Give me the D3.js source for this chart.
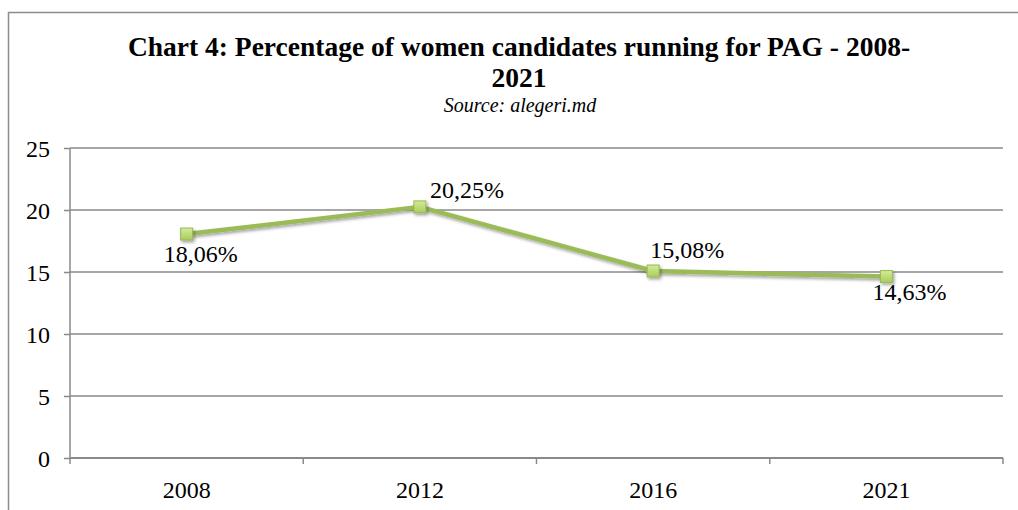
<!DOCTYPE html>
<html>
<head>
<meta charset="utf-8">
<script src="https://cdn.jsdelivr.net/npm/d3@7"></script>
<style>
  body { margin: 0; background: #fff; }
  svg { display: block; }
  svg text { font-family: "Liberation Serif", "Times New Roman", serif; }
</style>
</head>
<body>
<div id="chart"></div>
<script>
// Data
const years = ["2008", "2012", "2016", "2021"];
const shares = [18.06, 20.25, 15.08, 14.63];
const shareLabels = ["18,06%", "20,25%", "15,08%", "14,63%"];
const yTicks = [0, 5, 10, 15, 20, 25];

// label placement relative to the point (dx, dy of baseline)
const labelOffsets = [[14, 28], [47, -9], [34, -13], [23, 23]];

const W = 1018, H = 510;
const margin = {top: 148, right: 15, bottom: 52, left: 70};
const width = W - margin.left - margin.right;
const height = H - margin.top - margin.bottom;
const serif = '"Liberation Serif", "Times New Roman", serif';

const svg = d3.select("#chart").append("svg")
  .attr("width", W)
  .attr("height", H);

// outer frame (runs off the right and bottom edges)
svg.append("rect")
  .attr("x", 8.5).attr("y", 12.5)
  .attr("width", W + 10).attr("height", H + 10)
  .attr("fill", "none")
  .attr("stroke", "#8c8c8c")
  .attr("stroke-width", 1.5);

// Titles
const title = svg.append("text")
  .attr("text-anchor", "middle")
  .style("font-family", serif)
  .style("font-weight", "bold")
  .style("font-size", "27.5px")
  .attr("fill", "#000");
title.append("tspan").attr("x", 519).attr("y", 56)
  .text("Chart 4: Percentage of women candidates running for PAG - 2008-");
title.append("tspan").attr("x", 519).attr("y", 87).text("2021");

svg.append("text")
  .attr("x", 520).attr("y", 112)
  .attr("text-anchor", "middle")
  .style("font-family", serif)
  .style("font-style", "italic")
  .style("font-size", "20px")
  .text("Source: alegeri.md");

// shadow for markers
const defs = svg.append("defs");
const f = defs.append("filter").attr("id", "shadow")
  .attr("x", "-50%").attr("y", "-50%").attr("width", "200%").attr("height", "200%");
f.append("feDropShadow").attr("dx", 1.5).attr("dy", 2).attr("stdDeviation", 1.5)
  .attr("flood-color", "#000").attr("flood-opacity", 0.35);
const grad = defs.append("linearGradient").attr("id", "mk")
  .attr("x1", 0).attr("y1", 0).attr("x2", 0).attr("y2", 1);
grad.append("stop").attr("offset", "0%").attr("stop-color", "#d4eb9a");
grad.append("stop").attr("offset", "100%").attr("stop-color", "#a9cc5c");

const g = svg.append("g")
  .attr("transform", `translate(${margin.left},${margin.top})`);

// Scales
const x = d3.scaleBand().domain(years).range([0, width]);
const y = d3.scaleLinear().domain([0, 25]).range([height, 0]);

// Gridlines
g.append("g")
  .selectAll("line")
  .data(yTicks.filter(d => d > 0))
  .join("line")
  .attr("x1", 0).attr("x2", width)
  .attr("y1", d => y(d)).attr("y2", d => y(d))
  .attr("stroke", "#8a8a8a")
  .attr("stroke-width", 1.5);

// Y axis
const yAxis = g.append("g")
  .call(d3.axisLeft(y).tickValues(yTicks).tickSize(6).tickPadding(14));
yAxis.attr("font-family", null).attr("font-size", null);
yAxis.select(".domain").attr("stroke", "#8a8a8a").attr("stroke-width", 1.5)
  .attr("d", `M0,${height}V0`);
yAxis.selectAll(".tick line").attr("stroke", "#8a8a8a").attr("stroke-width", 1.5);
yAxis.selectAll("text")
  .style("font-family", serif).style("font-size", "24px").attr("fill", "#000")
  .attr("dy", "0.35em");

// X axis (ticks at category boundaries)
const xAxisG = g.append("g").attr("transform", `translate(0,${height})`);
xAxisG.append("line")
  .attr("x1", 0).attr("x2", width)
  .attr("stroke", "#8a8a8a").attr("stroke-width", 2);
const bounds = years.map(d => x(d)).concat([width]);
xAxisG.selectAll(".xt")
  .data(bounds)
  .join("line")
  .attr("class", "xt")
  .attr("x1", d => d).attr("x2", d => d)
  .attr("y1", 0).attr("y2", 6)
  .attr("stroke", "#8a8a8a").attr("stroke-width", 1.5);
xAxisG.selectAll(".xl")
  .data(years)
  .join("text")
  .attr("class", "xl")
  .attr("x", d => x(d) + x.bandwidth() / 2)
  .attr("y", 40)
  .attr("text-anchor", "middle")
  .style("font-family", serif).style("font-size", "24px")
  .text(d => d);

// Line
const cx = (d, i) => x(years[i]) + x.bandwidth() / 2;
const line = d3.line().x(cx).y(d => y(d));
g.append("path")
  .datum(shares)
  .attr("d", line)
  .attr("fill", "none")
  .attr("stroke", "#9bbb59")
  .attr("stroke-width", 4.5)
  .attr("stroke-linejoin", "round")
  .attr("filter", "url(#shadow)");

// Markers
g.selectAll(".mk")
  .data(shares)
  .join("rect")
  .attr("class", "mk")
  .attr("x", (d, i) => cx(d, i) - 6)
  .attr("y", d => y(d) - 6)
  .attr("width", 12).attr("height", 12)
  .attr("fill", "url(#mk)")
  .attr("stroke", "#98b954")
  .attr("stroke-width", 1)
  .attr("filter", "url(#shadow)");

// Data labels
g.selectAll(".lbl")
  .data(shares)
  .join("text")
  .attr("class", "lbl")
  .attr("x", (d, i) => cx(d, i) + labelOffsets[i][0])
  .attr("y", (d, i) => y(d) + labelOffsets[i][1])
  .attr("text-anchor", "middle")
  .style("font-family", serif).style("font-size", "24px")
  .text((d, i) => shareLabels[i]);
</script>
</body>
</html>
